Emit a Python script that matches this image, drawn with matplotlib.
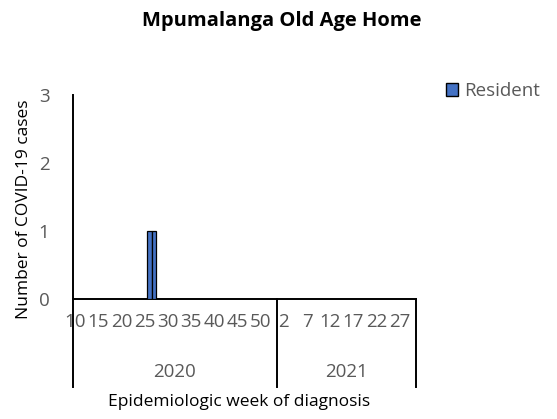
import matplotlib
matplotlib.use("Agg")
import matplotlib.pyplot as plt
import matplotlib.transforms as mtransforms
from matplotlib.patches import Patch

plt.rcParams['font.family'] = ['Open Sans', 'DejaVu Sans']

title = "Mpumalanga Old Age Home"
years = ["2020", "2021"]
weeks_2020 = [10, 11, 12, 13, 14, 15, 16, 17, 18, 19, 20, 21, 22, 23, 24, 25, 26, 27, 28, 29,
              30, 31, 32, 33, 34, 35, 36, 37, 38, 39, 40, 41, 42, 43, 44, 45, 46, 47, 48, 49,
              50, 51, 52, 53]
weeks_2021 = [1, 2, 3, 4, 5, 6, 7, 8, 9, 10, 11, 12, 13, 14, 15, 16, 17, 18, 19, 20,
              21, 22, 23, 24, 25, 26, 27, 28, 29, 30]
resident_year = ["2020", "2020"]
resident_week = [26, 27]
resident_cases = [1, 1]
series_name = "Resident"
y_ticks = [0, 1, 2, 3]

W, H = 557, 419
fig = plt.figure(figsize=(W / 100, H / 100), dpi=100)
ax_l, ax_r, ax_b, ax_t = 73, 416, 299, 95
ax = fig.add_axes([ax_l / W, 1 - ax_b / H, (ax_r - ax_l) / W, (ax_b - ax_t) / H])

cats = [("2020", w) for w in weeks_2020] + [("2021", w) for w in weeks_2021]
n = len(cats)
idx = {c: i for i, c in enumerate(cats)}
xs = [idx[(y, w)] for y, w in zip(resident_year, resident_week)]
ax.bar(xs, resident_cases, width=1.0, color="#4472C4", edgecolor="black", linewidth=0.9, zorder=3)

TICK_FS = 13.5
GRAY = "#595959"
ax.set_xlim(-0.5, n - 0.5)
ax.set_ylim(0, 3)
ax.set_yticks(y_ticks)
ax.set_yticklabels([str(t) for t in y_ticks], fontsize=TICK_FS, color=GRAY)
ax.tick_params(axis='y', length=0, pad=17)
ax.set_xticks([])
for s in ["top", "right"]:
    ax.spines[s].set_visible(False)
for s in ["left", "bottom"]:
    ax.spines[s].set_linewidth(1.4)
    ax.spines[s].set_color("black")

trans = mtransforms.blended_transform_factory(ax.transData, ax.transAxes)
ah = ax_b - ax_t
def py(px):
    return -px / ah

# multi-level axis dividers
n2020 = len(weeks_2020)
for xv in [-0.5, n2020 - 0.5, n - 0.5]:
    ax.plot([xv, xv], [0, py(88)], color="black", lw=1.4, transform=trans, clip_on=False)

# week labels every 5th category
for i, (y, w) in enumerate(cats):
    if i % 5 == 0:
        ax.text(i, py(23), str(w), transform=trans, ha="center", va="center",
                fontsize=TICK_FS, color=GRAY, clip_on=False)

# year labels
ax.text((n2020 - 1) / 2, py(73), years[0], transform=trans, ha="center", va="center",
        fontsize=TICK_FS, color=GRAY)
ax.text(n2020 + (len(weeks_2021) - 1) / 2, py(73), years[1], transform=trans, ha="center",
        va="center", fontsize=TICK_FS, color=GRAY)

fig.text(239 / W, 1 - 402 / H, "Epidemiologic week of diagnosis", ha="center", va="center",
         fontsize=12.5, color="black")
fig.text(24 / W, 1 - 209 / H, "Number of COVID-19 cases", ha="center", va="center",
         rotation=90, fontsize=12.5, color="black")
fig.text(282 / W, 1 - 21 / H, title, ha="center", va="center", fontsize=14.5,
         fontweight="bold", color="black")

handle = Patch(facecolor="#4472C4", edgecolor="black", linewidth=1.0)
fig.legend([handle], [series_name], loc="center left", bbox_to_anchor=(438 / W, 1 - 91 / H),
           frameon=False, fontsize=TICK_FS, handlelength=0.65, handleheight=0.65,
           handletextpad=0.35, borderaxespad=0, labelcolor=GRAY)

fig.savefig("out.png", dpi=100)
